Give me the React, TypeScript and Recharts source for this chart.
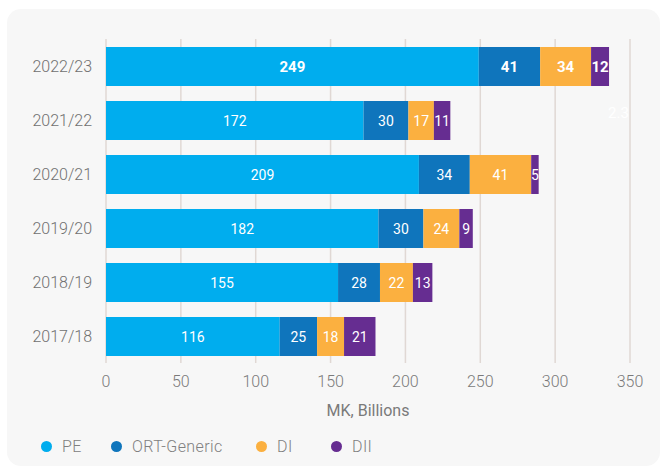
import { BarChart, Bar, XAxis, YAxis, CartesianGrid, LabelList } from "recharts";

const years = ["2022/23", "2021/22", "2020/21", "2019/20", "2018/19", "2017/18"];
const pe = [249, 172, 209, 182, 155, 116];
const ortGeneric = [41, 30, 34, 30, 28, 25];
const di = [34, 17, 41, 24, 22, 18];
const dii = [12, 11, 5, 9, 13, 21];
const xTicks = [0, 50, 100, 150, 200, 250, 300, 350];

const series = [
  { key: "PE", name: "PE", color: "#00adee", legendX: 41 },
  { key: "ORT", name: "ORT-Generic", color: "#0f75bc", legendX: 111 },
  { key: "DI", name: "DI", color: "#fbb040", legendX: 256 },
  { key: "DII", name: "DII", color: "#662d91", legendX: 331 },
];

const data = years.map((y, i) => ({
  year: y,
  PE: pe[i],
  ORT: ortGeneric[i],
  DI: di[i],
  DII: dii[i],
}));

const FONT = "Roboto, 'Noto Sans', sans-serif";

const barLabel = (props: any) => {
  const { x, y, width, height, value, index } = props;
  const bold = index === 0;
  return (
    <text
      x={Number(x) + Number(width) / 2}
      y={Number(y) + Number(height) / 2}
      textAnchor="middle"
      dominantBaseline="central"
      fill="#fff"
      fontSize={bold ? 15 : 14}
      fontWeight={bold ? 700 : 400}
      fontFamily={FONT}
    >
      {value}
    </text>
  );
};

export default function App() {
  return (
    <div style={{ position: "absolute", left: 0, top: 0, width: 662, height: 469, background: "#fff", fontFamily: FONT }}>
      <div
        style={{
          position: "absolute",
          left: 7,
          top: 9,
          width: 653,
          height: 457,
          background: "#f7f7f7",
          borderRadius: 14,
        }}
      />
      <div style={{ position: "absolute", left: 0, top: 0 }}>
        <BarChart
          width={662}
          height={469}
          data={data}
          layout="vertical"
          margin={{ top: 39, right: 32, left: 0, bottom: 76 }}
          barSize={39}
        >
          <CartesianGrid horizontal={false} stroke="#e0d8d4" strokeWidth={1.5} />
          <XAxis
            type="number"
            domain={[0, 350]}
            ticks={xTicks}
            axisLine={false}
            tickLine={false}
            tickMargin={7}
            height={30}
            tick={{ fill: "#7a7a7a", fontSize: 16, fontWeight: 300, fontFamily: FONT }}
          />
          <YAxis
            type="category"
            dataKey="year"
            width={106}
            axisLine={false}
            tickLine={false}
            tickMargin={8}
            tick={{ fill: "#707070", fontSize: 16, fontWeight: 300, fontFamily: FONT }}
          />
          {series.map((s) => (
            <Bar key={s.key} dataKey={s.key} name={s.name} stackId="a" fill={s.color} isAnimationActive={false}>
              <LabelList dataKey={s.key} content={barLabel} />
            </Bar>
          ))}
        </BarChart>
      </div>
      <div style={{ position: "absolute", left: 608, top: 104, fontSize: 15, color: "#fff" }}>2.3</div>
      <div
        style={{
          position: "absolute",
          left: 268,
          width: 200,
          top: 401,
          textAlign: "center",
          fontSize: 16,
          fontWeight: 400,
          color: "#7a7a7a",
        }}
      >
        MK, Billions
      </div>
      {series.map((s) => (
        <div
          key={s.key}
          style={{
            position: "absolute",
            left: s.legendX,
            top: 436,
            height: 20,
            display: "flex",
            alignItems: "center",
            fontSize: 16,
            fontWeight: 300,
            letterSpacing: 0.4,
            color: "#808080",
          }}
        >
          <span
            style={{
              display: "inline-block",
              width: 11,
              height: 11,
              borderRadius: 6,
              background: s.color,
              marginRight: 10,
            }}
          />
          {s.name}
        </div>
      ))}
    </div>
  );
}
